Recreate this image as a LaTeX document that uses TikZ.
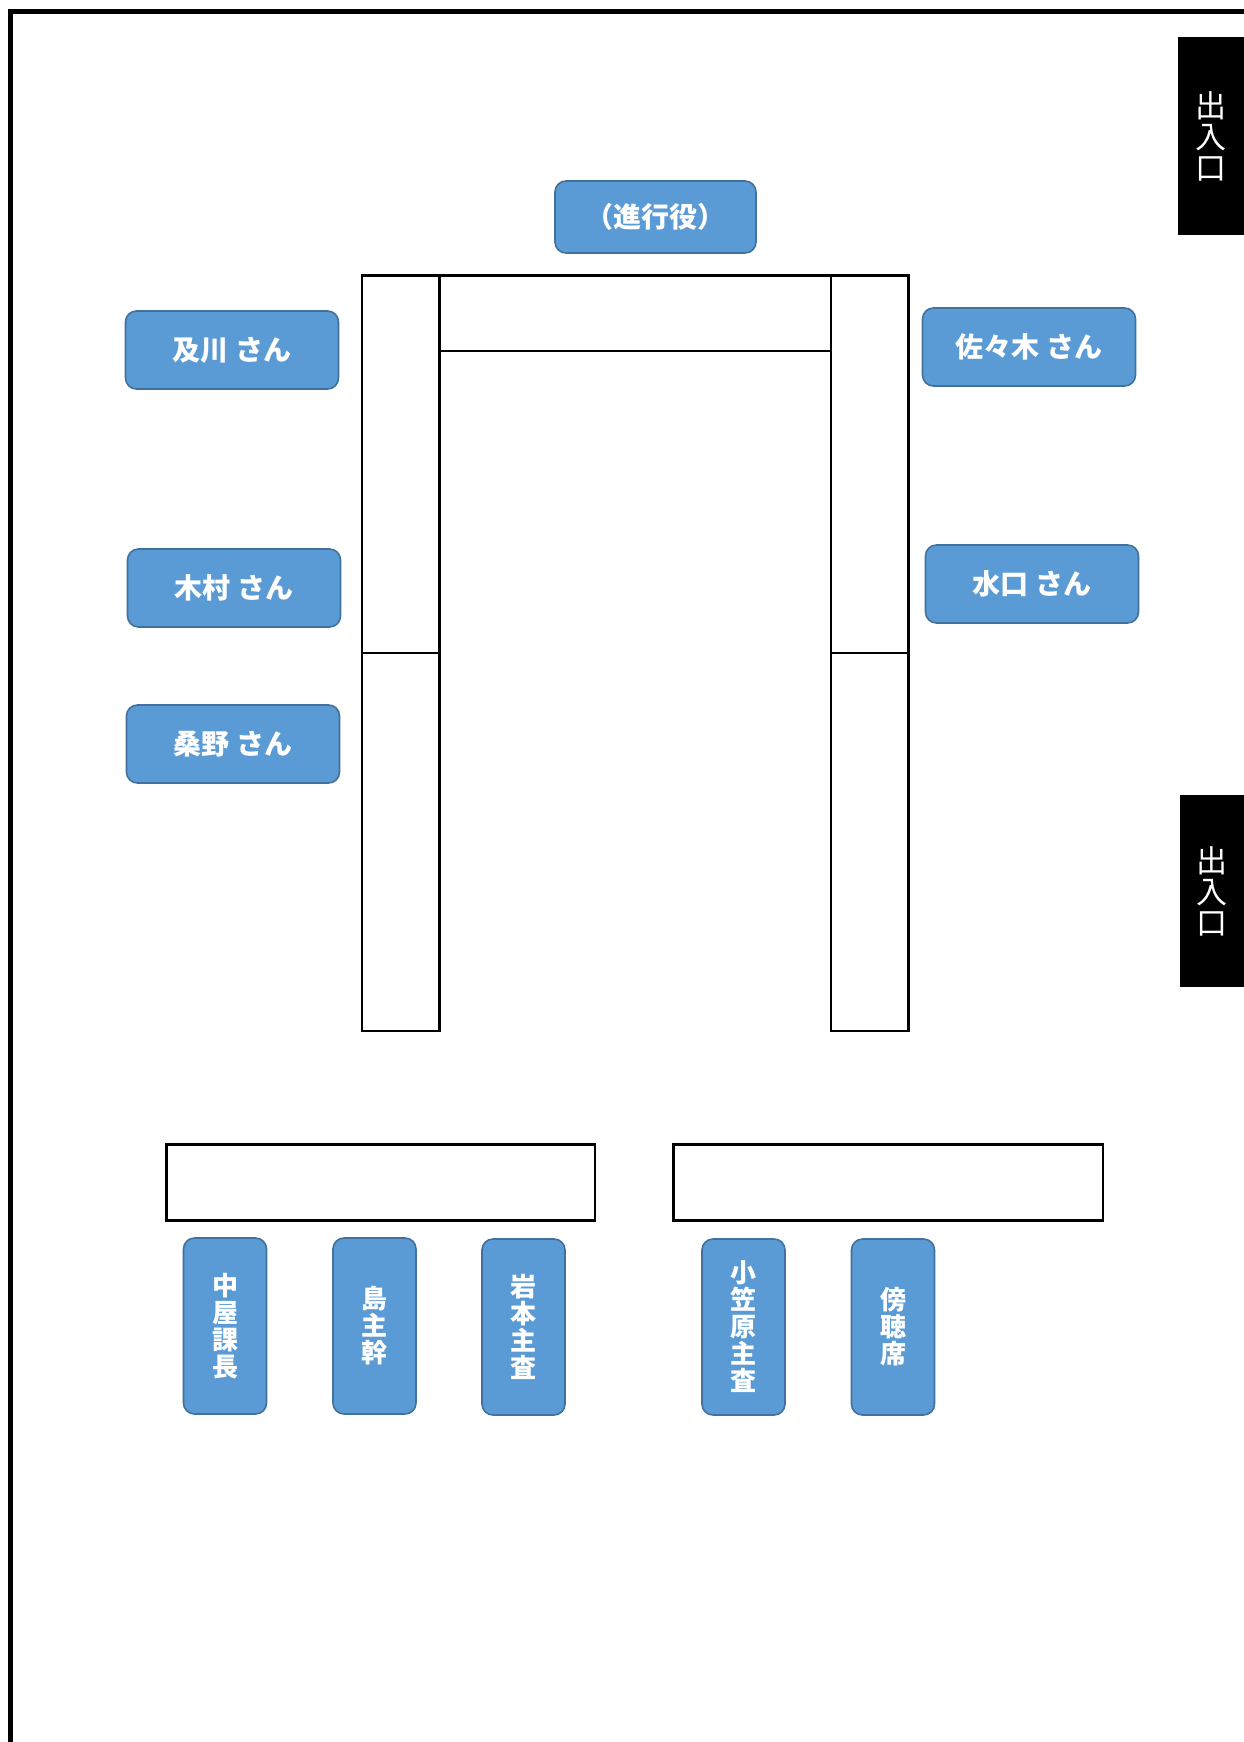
\documentclass[tikz,border=0pt]{standalone}
\usepackage{fontspec}
\newfontfamily\cjk{Noto Sans CJK JP}
\definecolor{boxblue}{HTML}{5B9BD5}
\definecolor{boxedge}{HTML}{41719C}
\begin{document}
\begin{tikzpicture}[x=1pt,y=-1pt,
  person/.style={draw=boxedge, fill=boxblue, rounded corners=11pt, line width=1.6pt,
    text=white, inner sep=0pt, align=center,
    font=\cjk\bfseries\fontsize{28}{27}\selectfont},
  hperson/.style={person, minimum width=213pt, minimum height=78pt},
  vperson/.style={person, minimum width=83pt, minimum height=176pt,
    font=\cjk\bfseries\fontsize{26}{27}\selectfont},
  exitbox/.style={fill=black, text=white, inner sep=0pt, align=center,
    font=\cjk\fontsize{31}{31}\selectfont},
  desk/.style={draw=black, line width=2.7pt}
]
\useasboundingbox (0,0) rectangle (1244,1742);
\fill[white] (0,0) rectangle (1244,1742);
% room frame
\draw[line width=5pt] (10.5,1742) -- (10.5,11.5) -- (1244,11.5);
% exits
\node[exitbox, minimum width=66pt, minimum height=198pt] (exit1) at (1211,136) {出\\入\\口};
\node[exitbox, minimum width=64pt, minimum height=192pt] (exit2) at (1212,891) {出\\入\\口};
% main tables
\draw[desk] (362,275.5) rectangle (439.5,1031);
\draw[desk] (362,653) -- (439.5,653);
\draw[desk] (439.5,275.5) rectangle (831,351);
\draw[desk] (831,275.5) rectangle (908.5,1031);
\draw[desk] (831,653) -- (908.5,653);
% bottom tables
\draw[desk] (166.7,1144.7) rectangle (595,1220.3);
\draw[desk] (673.5,1144.7) rectangle (1103,1220.3);
% people
\node[person, minimum width=201pt, minimum height=72pt] (chair) at (655.5,217) {（進行役）};
\node[hperson] (oikawa) at (232,350) {及川 さん};
\node[hperson] (kimura) at (234,588) {木村 さん};
\node[hperson] (kuwano) at (233,744) {桑野 さん};
\node[hperson] (sasaki) at (1029,347) {佐々木 さん};
\node[hperson] (mizuguchi) at (1032,584) {水口 さん};
% bottom people
\node[vperson] (nakaya) at (225,1326) {中\\屋\\課\\長};
\node[vperson] (shima) at (374.5,1326) {島\\主\\幹};
\node[vperson] (iwamoto) at (523.5,1327) {岩\\本\\主\\査};
\node[vperson] (ogasawara) at (743.5,1327) {小\\笠\\原\\主\\査};
\node[vperson] (bochou) at (893,1327) {傍\\聴\\席};
\end{tikzpicture}
\end{document}
